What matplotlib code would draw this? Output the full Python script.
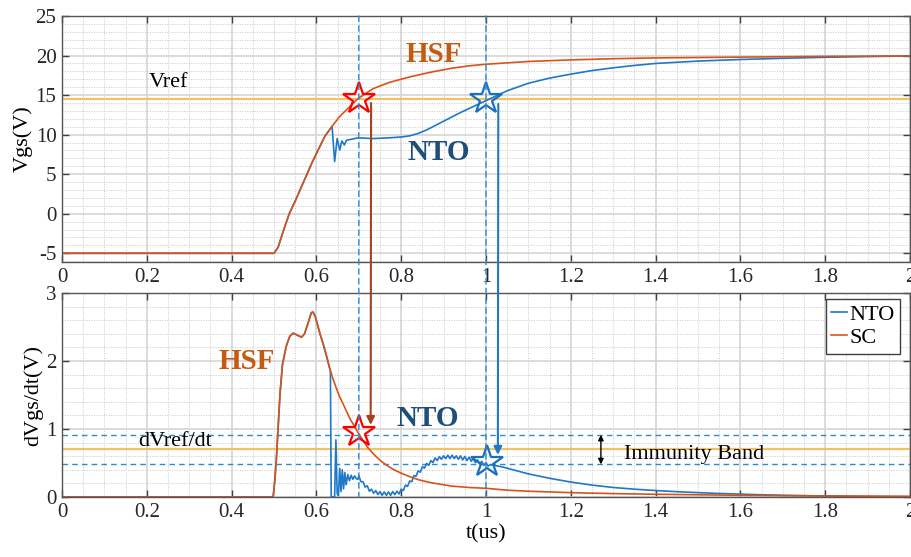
import matplotlib
matplotlib.use('Agg')
import matplotlib.pyplot as plt
from matplotlib.patches import ConnectionPatch
from matplotlib.ticker import MultipleLocator

plt.rcParams['font.family'] = ['Liberation Serif', 'DejaVu Serif']
plt.rcParams['axes.unicode_minus'] = False

# ---- top panel: Vgs (V) vs t (us) ----
t_sc_v = [0, 0.5, 0.51, 0.52, 0.536, 0.55, 0.572, 0.59, 0.604, 0.62,
          0.639, 0.655, 0.674, 0.698, 0.733, 0.772, 0.82, 0.87, 0.92, 0.96,
          1.0, 1.1, 1.2, 1.3, 1.4, 1.6, 1.8, 2.0]
sc_v = [-5, -5, -4.2, -2.5, 0, 1.6, 4.3, 6.5, 8.05, 9.8,
        11.2, 12.3, 13.3, 14.55, 15.8, 16.6, 17.3, 17.9, 18.4, 18.7,
        18.9, 19.25, 19.45, 19.6, 19.7, 19.8, 19.9, 19.95]

t_nto_v = t_sc_v[:10] + [0.637, 0.643, 0.649, 0.655, 0.660, 0.666, 0.671, 0.681, 0.698, 0.733,
                         0.772, 0.8, 0.82, 0.84, 0.86, 0.88, 0.9, 0.92, 0.94, 0.96,
                         0.98, 1.0, 1.05, 1.1, 1.15, 1.2, 1.25, 1.3, 1.35, 1.4,
                         1.5, 1.6, 1.7, 1.8, 1.9, 2.0]
nto_v = sc_v[:10] + [11.05, 6.6, 9.5, 8.05, 9.2, 8.7, 9.3, 9.4, 9.6, 9.5,
                     9.6, 9.7, 9.85, 10.15, 10.6, 11.15, 11.7, 12.25, 12.8, 13.3,
                     13.8, 14.3, 15.55, 16.5, 17.15, 17.65, 18.1, 18.45, 18.75, 19.0,
                     19.3, 19.5, 19.65, 19.78, 19.87, 19.95]

# ---- bottom panel: dVgs/dt ----
t_sc_d = [0, 0.498, 0.502, 0.506, 0.51, 0.514, 0.52, 0.529, 0.537, 0.545,
          0.555, 0.565, 0.572, 0.58, 0.588, 0.592, 0.597, 0.608, 0.616, 0.624,
          0.631, 0.639, 0.647, 0.655, 0.663, 0.671, 0.68, 0.69, 0.698, 0.71,
          0.722, 0.735, 0.75, 0.765, 0.78, 0.80, 0.82, 0.843, 0.87, 0.9,
          0.92, 0.96, 1.0, 1.05, 1.1, 1.2, 1.3, 1.4, 1.6, 1.8,
          2.0]
sc_d = [0, 0, 0.25, 0.6, 1.05, 1.5, 1.95, 2.22, 2.36, 2.41,
        2.38, 2.35, 2.4, 2.55, 2.71, 2.72, 2.66, 2.41, 2.25, 2.07,
        1.9, 1.74, 1.6, 1.47, 1.37, 1.26, 1.14, 1.04, 0.95, 0.83,
        0.72, 0.63, 0.54, 0.47, 0.41, 0.35, 0.3, 0.25, 0.21, 0.18,
        0.16, 0.14, 0.128, 0.1, 0.085, 0.064, 0.05, 0.04, 0.025, 0.015,
        0.01]

t_nto_d = t_sc_d[:21] + [
    0.633, 0.635, 0.640, 0.643, 0.646, 0.649, 0.652, 0.655, 0.658, 0.661,
    0.664, 0.667, 0.670, 0.674, 0.678, 0.682, 0.686, 0.690, 0.694, 0.698,
    0.700, 0.705, 0.710, 0.715, 0.720, 0.725, 0.730, 0.735, 0.740, 0.745,
    0.750, 0.755, 0.760, 0.765, 0.770, 0.775, 0.780, 0.785, 0.790, 0.795,
    0.800, 0.805, 0.810, 0.815, 0.820, 0.825, 0.830, 0.835, 0.840, 0.845,
    0.850, 0.855, 0.860, 0.865, 0.870, 0.875, 0.880, 0.885, 0.890, 0.895,
    0.900, 0.905, 0.910, 0.915, 0.920, 0.925, 0.930, 0.935, 0.940, 0.945,
    0.950, 0.955, 0.960, 0.965, 0.970, 0.975, 0.980, 0.985, 0.990, 0.995,
    1.000, 1.005, 1.010, 1.02, 1.04, 1.07, 1.1, 1.15, 1.2, 1.25,
    1.3, 1.35, 1.4, 1.46, 1.54, 1.62, 1.70, 1.8, 1.9, 2.0]
nto_d = sc_d[:21] + [
    1.85, 0.0, 0.0, 0.0, 0.84, 0.05, 0.02, 0.42, 0.08, 0.40,
    0.12, 0.36, 0.18, 0.33, 0.24, 0.32, 0.26, 0.31, 0.27, 0.26,
    0.315, 0.225, 0.225, 0.145, 0.165, 0.085, 0.115, 0.055, 0.095, 0.035,
    0.08, 0.025, 0.075, 0.025, 0.075, 0.025, 0.08, 0.035, 0.085, 0.045,
    0.115, 0.095, 0.175, 0.155, 0.235, 0.225, 0.315, 0.305, 0.385, 0.365,
    0.445, 0.425, 0.495, 0.465, 0.535, 0.505, 0.575, 0.535, 0.595, 0.555,
    0.605, 0.565, 0.615, 0.565, 0.615, 0.565, 0.605, 0.555, 0.605, 0.545,
    0.595, 0.535, 0.585, 0.525, 0.565, 0.505, 0.545, 0.485, 0.525, 0.465,
    0.505, 0.455, 0.475, 0.465, 0.44, 0.39, 0.34, 0.275, 0.22, 0.175,
    0.14, 0.115, 0.095, 0.075, 0.054, 0.038, 0.025, 0.015, 0.008, 0.004]

vref = 14.5
dvref = 0.71
band_lo, band_hi = 0.48, 0.915
t_hsf, t_nto = 0.7, 1.0
star_hsf = [(0.7, 14.5), (0.7, 0.95)]
star_nto = [(1.0, 14.5), (1.003, 0.52)]

c_nto = '#1f78c8'
c_sc = '#d95319'
c_ref = '#f2c164'
c_dash = '#2a8ad4'
c_brown = '#a3431c'
c_hsf_txt = '#c55a11'
c_nto_txt = '#1f4e79'

fig = plt.figure(figsize=(9.12, 5.57), dpi=100)
ax1 = fig.add_axes([62 / 912, 1 - 262 / 557, 848 / 912, 246 / 557])
ax2 = fig.add_axes([62 / 912, 1 - 497 / 557, 848 / 912, 204 / 557])

for ax in (ax1, ax2):
    ax.set_xlim(0, 2)
    ax.xaxis.set_major_locator(MultipleLocator(0.2))
    ax.xaxis.set_minor_locator(MultipleLocator(0.05))
    ax.grid(which='major', color='#d6d6d6', lw=1.2, ls='-')
    ax.grid(which='minor', color='#c8c8c8', lw=0.7, ls=(0, (1, 1.5)))
    ax.set_axisbelow(True)
    ax.tick_params(which='major', direction='in', top=True, right=True,
                   length=5, width=1, color='#404040', labelsize=15,
                   labelcolor='#262626', pad=4)
    ax.tick_params(which='minor', length=0)
    for s in ax.spines.values():
        s.set_color('#555555')
        s.set_linewidth(1)
    ax.set_xticks([0, 0.2, 0.4, 0.6, 0.8, 1, 1.2, 1.4, 1.6, 1.8, 2])
    ax.set_xticklabels(['0', '0.2', '0.4', '0.6', '0.8', '1', '1.2', '1.4', '1.6', '1.8', '2'])

# top
ax1.set_ylim(-6.1, 25)
ax1.yaxis.set_major_locator(MultipleLocator(5))
ax1.yaxis.set_minor_locator(MultipleLocator(1))
ax1.plot(t_nto_v, nto_v, color=c_nto, lw=1.2)
ax1.plot(t_sc_v, sc_v, color=c_sc, lw=1.2)
ax1.axhline(vref, color=c_ref, lw=1.6, zorder=1.5)
ax1.set_ylabel('Vgs(V)', fontsize=16, labelpad=2)
ax1.text(0.204, 16.6, 'Vref', fontsize=16, va='center')
ax1.text(0.81, 20.1, 'HSF', fontsize=21, fontweight='bold', color=c_hsf_txt, va='center')
ax1.text(0.815, 7.8, 'NTO', fontsize=21, fontweight='bold', color=c_nto_txt, va='center')

# bottom
ax2.set_ylim(0, 3)
ax2.yaxis.set_major_locator(MultipleLocator(1))
ax2.yaxis.set_minor_locator(MultipleLocator(0.2))
ax2.plot(t_nto_d, nto_d, color=c_nto, lw=1.2, label='NTO')
ax2.plot(t_sc_d, sc_d, color=c_sc, lw=1.2, label='SC')
ax2.axhline(dvref, color=c_ref, lw=1.6, zorder=1.5)
ax2.axhline(band_hi, color=c_dash, lw=1, ls=(0, (4, 3)), zorder=1.6)
ax2.axhline(band_lo, color=c_dash, lw=1, ls=(0, (4, 3)), zorder=1.6)
ax2.set_ylabel('dVgs/dt(V)', fontsize=16, labelpad=2)
ax2.set_xlabel('t(us)', fontsize=16, labelpad=2)
ax2.text(0.18, 0.82, 'dVref/dt', fontsize=16, va='center')
ax2.text(0.368, 2.0, 'HSF', fontsize=21, fontweight='bold', color=c_hsf_txt, va='center')
ax2.text(0.788, 1.16, 'NTO', fontsize=21, fontweight='bold', color=c_nto_txt, va='center')
ax2.text(1.326, 0.62, 'Immunity Band', fontsize=16, va='center')
ax2.annotate('', xy=(1.271, band_hi), xytext=(1.271, band_lo),
             arrowprops=dict(arrowstyle='<|-|>', color='k', lw=1,
                             mutation_scale=8, shrinkA=0, shrinkB=0))
leg = ax2.legend(loc='upper right', bbox_to_anchor=(0.988, 0.97), borderaxespad=0,
                 fontsize=16, handlelength=0.7, handletextpad=0.1, borderpad=0.25,
                 labelspacing=0.1, fancybox=False, framealpha=1, edgecolor='#404040')
leg.get_frame().set_linewidth(1)

# vertical dashed markers spanning both panels
for tm in (t_hsf, t_nto):
    fig.add_artist(ConnectionPatch((tm, 25), (tm, 0), 'data', 'data', axesA=ax1, axesB=ax2,
                                   color=c_dash, lw=1, ls=(0, (4, 3)), zorder=3))

# arrows from top to bottom panel
fig.add_artist(ConnectionPatch((0.729, 14.0), (0.728, 1.06), 'data', 'data', axesA=ax1, axesB=ax2,
                               arrowstyle='-|>', mutation_scale=12, color=c_brown, lw=1.5, zorder=4))
fig.add_artist(ConnectionPatch((1.029, 13.9), (1.028, 0.62), 'data', 'data', axesA=ax1, axesB=ax2,
                               arrowstyle='-|>', mutation_scale=12, color=c_nto, lw=1.5, zorder=4))

# stars
ax1.plot(*star_hsf[0], marker='*', ms=24, mfc='none', mec='#ff0000', mew=1.6, zorder=5)
ax2.plot(*star_hsf[1], marker='*', ms=24, mfc='none', mec='#ff0000', mew=1.6, zorder=5)
ax1.plot(*star_nto[0], marker='*', ms=24, mfc='none', mec='#1a6fc0', mew=1.6, zorder=5)
ax2.plot(*star_nto[1], marker='*', ms=24, mfc='none', mec='#1a6fc0', mew=1.6, zorder=5)

fig.savefig('out.png', dpi=100)
